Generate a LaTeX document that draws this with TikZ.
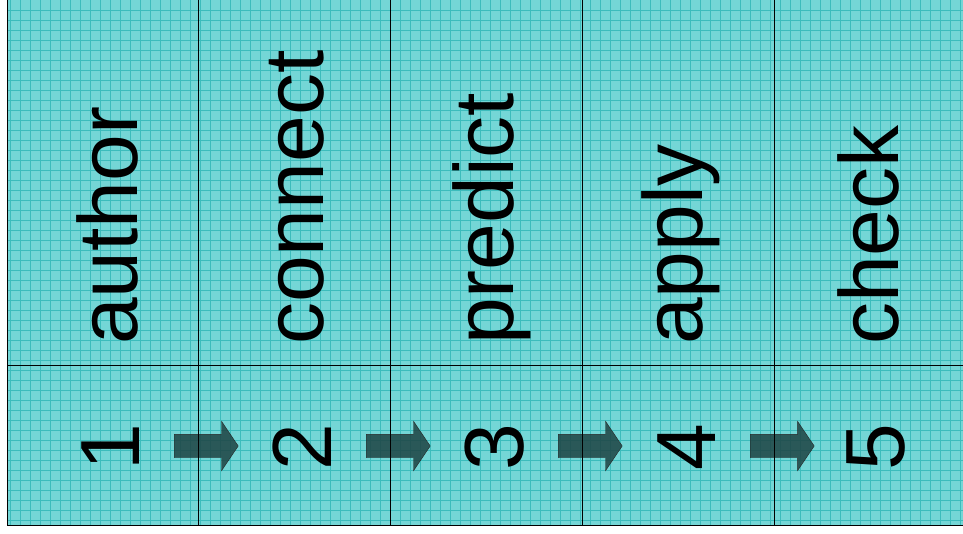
\documentclass[tikz,border=0pt]{standalone}
\usepackage{fontspec}
\setmainfont{Liberation Sans}
\usetikzlibrary{shapes.arrows,positioning}

\definecolor{paper}{RGB}{116,214,214}
\definecolor{gridline}{RGB}{60,188,188}
\definecolor{arrowfill}{RGB}{30,66,66}

\begin{document}
\begin{tikzpicture}[
        x=1pt, y=-1pt,
        word/.style={
            rotate=90,
            anchor=base west,
            inner sep=0pt,
            font=\fontsize{84}{90}\selectfont
        },
        number/.style={
            rotate=90,
            anchor=base,
            inner sep=0pt,
            font=\fontsize{84}{90}\selectfont
        },
        blockarrow/.style={
            single arrow,
            draw=black!85,
            fill=arrowfill,
            fill opacity=0.85,
            anchor=tail,
            minimum height=64pt,
            inner sep=11.5pt,
            single arrow head extend=13pt,
            single arrow tip angle=112,
            single arrow head indent=0pt
        },
        rule/.style={draw, line width=1pt}
    ]
        \useasboundingbox (0,0) rectangle (963,533);

        % -- Background (paper with grid) --
        \fill[paper] (7,0) rectangle (963,525);
        \foreach \gx in {10,20,...,960}
            \draw[gridline, line width=0.9pt] (\gx,0) -- (\gx,525);
        \foreach \gy in {10,20,...,520}
            \draw[gridline, line width=0.9pt] (7,\gy) -- (963,\gy);

        % -- Words --
        \node [word] (author) at (137,345) {author};
        \node [word] (connect) at (323,345) {connect};
        \node [word] (predict) at (513,345) {predict};
        \node [word] (apply) at (702,345) {apply};
        \node [word] (check) at (898,345) {check};

        % -- Numbers --
        \node [number] (n1) at (139,447) {1};
        \node [number] (n2) at (331,447) {2};
        \node [number] (n3) at (523,447) {3};
        \node [number] (n4) at (715,447) {4};
        \node [number] (n5) at (904,447) {5};

        % -- Arrows --
        \node [blockarrow] (a12) at (174,446) {};
        \node [blockarrow] (a23) at (366,446) {};
        \node [blockarrow] (a34) at (558,446) {};
        \node [blockarrow] (a45) at (750,446) {};

        % -- Frame and column rules --
        \draw[rule] (7,0) -- (7,525) -- (963,525);
        \draw[rule] (7,365) -- (963,365);
        \draw[rule] (198,0) -- (198,525);
        \draw[rule] (390,0) -- (390,525);
        \draw[rule] (582,0) -- (582,525);
        \draw[rule] (774,0) -- (774,525);

    \end{tikzpicture}
\end{document}
